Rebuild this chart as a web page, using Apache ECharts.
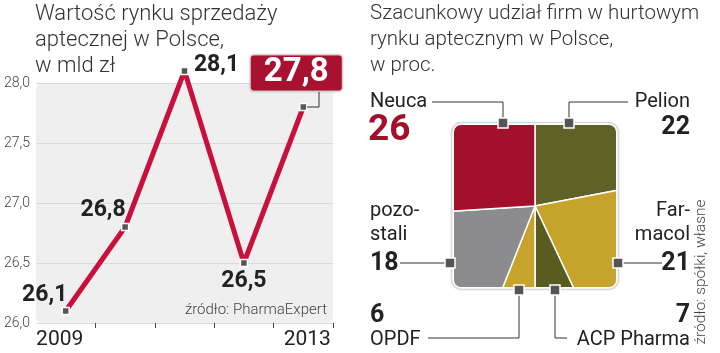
<!DOCTYPE html>
<html>
<head>
<meta charset="utf-8">
<script src="https://cdn.jsdelivr.net/npm/echarts@6.0.0/dist/echarts.min.js"></script>
<style>
  html, body { margin: 0; padding: 0; background: #fff; }
  #main { width: 720px; height: 353px; }
</style>
</head>
<body>
<div id="main"></div>
<script>
// wartość rynku, mld zł
const years = ['2009', '2010', '2011', '2012', '2013'];
const marketValues = [26.1, 26.8, 28.1, 26.5, 27.8];
const yMin = 26, yMax = 28, yStep = 0.5;

// udział firm, proc. (kolejność zgodnie z ruchem wskazówek od góry)
const shareNames = ['Pelion', 'Farmacol', 'ACP Pharma', 'OPDF', 'pozostali', 'Neuca'];
const shareLabels = ['Pelion', 'Far-\nmacol', 'ACP Pharma', 'OPDF', 'pozo-\nstali', 'Neuca'];
const shareValues = [22, 21, 7, 6, 18, 26];
const shareColors = ['#5e6226', '#c6a32a', '#585c1f', '#c6a32a', '#8c8c8e', '#a3102c'];

const FONT = 'Roboto, "Liberation Sans", sans-serif';

// label placement around the square
const notes = [
  { m: [569, 123], l: [[569, 102], [628, 102]], n: [690, 102, 'right'], v: [690, 128, 'right'] },
  { m: [618, 263], l: [[662, 263]], n: [690, 223, 'right'], v: [690, 264, 'right'] },
  { m: [555, 290], l: [[555, 338], [567, 338]], n: [690, 340, 'right'], v: [690, 316, 'right'] },
  { m: [519, 290], l: [[519, 338], [428, 338]], n: [370, 340, 'left'], v: [370, 316, 'left'] },
  { m: [450, 263], l: [[400, 263]], n: [370, 223, 'left'], v: [370, 264, 'left'] },
  { m: [503, 123], l: [[503, 102], [432, 102]], n: [370, 102, 'left'], v: [368, 131, 'left'] }
];
const lineLabelOffsets = [[-21, -16], [-22, -17], [32, -6], [0, 18], [-7, -34]];

const fmt = v => v.toFixed(1).replace('.', ',');

function txt(text, x, y, align, size, weight, color, extra) {
  return Object.assign({
    type: 'text', z: 20, silent: true,
    style: {
      text: text, x: x, y: y,
      align: align, textAlign: align,
      verticalAlign: 'middle', textVerticalAlign: 'middle',
      fontSize: size, fontWeight: weight, fontFamily: FONT,
      lineHeight: 24, fill: color
    }
  }, extra || {});
}

const graphics = [
  // plot background
  { type: 'rect', z: -1, silent: true, shape: { x: 36, y: 83, width: 297, height: 240, r: 6 }, style: { fill: '#efefef' } },
  // white mask clipping the pie to a rounded square
  { type: 'rect', z: 5, silent: true, shape: { x: 414, y: 85, width: 242, height: 242, r: 47 },
    style: { fill: null, stroke: '#fff', lineWidth: 80 } },
  // soft frame
  { type: 'rect', z: 6, silent: true, shape: { x: 451.5, y: 122.5, width: 167, height: 167, r: 10 },
    style: { fill: null, stroke: 'rgba(0,0,0,0.14)', lineWidth: 1.5, shadowBlur: 3, shadowColor: 'rgba(0,0,0,0.25)' } },
  // connector of the 2013 box
  { type: 'polyline', z: 20, silent: true, shape: { points: [[307, 107], [319, 107], [319, 92]] },
    style: { stroke: '#333', lineWidth: 1, fill: null } },
  txt('źródło: PharmaExpert', 327, 310, 'right', 15, 300, '#444'),
  txt('źródło: spółki, własne', 0, 0, 'center', 15.5, 300, '#444', { x: 701, y: 272, rotation: Math.PI / 2 })
];

shareLabels.forEach((name, i) => {
  const p = notes[i];
  graphics.push({ type: 'polyline', z: 19, silent: true, shape: { points: [p.m].concat(p.l) },
    style: { stroke: '#333', lineWidth: 1, fill: null } });
  graphics.push({ type: 'rect', z: 21, silent: true, shape: { x: p.m[0] - 5, y: p.m[1] - 5, width: 10, height: 10 },
    style: { fill: '#555', stroke: '#fff', lineWidth: 1.5 } });
  graphics.push(txt(name, p.n[0], p.n[1], p.n[2], 20, 'normal', '#222'));
  const big = shareNames[i] === 'Neuca';
  graphics.push(txt(String(shareValues[i]), p.v[0], p.v[1], p.v[2], big ? 37 : 25, 'bold', big ? '#a3102c' : '#222'));
});

const chart = echarts.init(document.getElementById('main'));
chart.setOption({
  animation: false,
  title: [
    { text: 'Wartość rynku sprzedaży\naptecznej w Polsce,\nw mld zł', left: 35, top: 1, padding: 0, z: 20,
      textStyle: { fontFamily: FONT, fontWeight: 300, fontSize: 22, lineHeight: 26, color: '#333' } },
    { text: 'Szacunkowy udział firm w hurtowym\nrynku aptecznym w Polsce,\nw proc.', left: 370, top: 1, padding: 0, z: 20,
      textStyle: { fontFamily: FONT, fontWeight: 300, fontSize: 20.5, lineHeight: 26, color: '#333' } }
  ],
  grid: { left: 36, right: 387, top: 83, bottom: 30 },
  xAxis: {
    type: 'category',
    data: years,
    boundaryGap: true,
    axisLine: { show: false },
    axisTick: { show: true, length: 5, interval: i => i > 0, lineStyle: { color: '#444' } },
    axisLabel: {
      interval: 0, margin: 6,
      formatter: (v, i) => i === 0 ? '{l|' + v + '}' : (i === years.length - 1 ? '{r|' + v + '}' : ''),
      rich: {
        l: { fontFamily: FONT, fontSize: 21, color: '#222', padding: [0, 12, 0, 0] },
        r: { fontFamily: FONT, fontSize: 21, color: '#222', padding: [0, 0, 0, 8] }
      }
    }
  },
  yAxis: {
    type: 'value', min: yMin, max: yMax, interval: yStep,
    axisLine: { show: false }, axisTick: { show: false },
    axisLabel: { formatter: fmt, color: '#444', fontFamily: FONT, fontWeight: 300, fontSize: 14, margin: 6 },
    splitLine: { lineStyle: { color: '#dadada', width: 1 } }
  },
  graphic: graphics,
  series: [
    {
      type: 'line',
      data: marketValues.map((v, i) => {
        const lab = { offset: lineLabelOffsets[i] };
        if (i === marketValues.length - 1) {
          Object.assign(lab, {
            color: '#fff', fontSize: 33, lineHeight: 33,
            backgroundColor: '#a8122f', padding: [2, 13, 0, 13], borderRadius: 3,
            borderColor: '#e6e6e6', borderWidth: 1, shadowBlur: 2, shadowColor: 'rgba(0,0,0,0.3)'
          });
        }
        return { value: v, label: lab };
      }),
      clip: false,
      symbol: 'rect', symbolSize: 7, showAllSymbol: true,
      lineStyle: { color: '#c8103c', width: 5 },
      itemStyle: { color: '#555', borderColor: '#fff', borderWidth: 1.5 },
      label: {
        show: true, position: 'inside', align: 'center', verticalAlign: 'middle',
        formatter: p => fmt(p.value),
        fontFamily: FONT, fontWeight: 'bold', fontSize: 23, color: '#222'
      },
      emphasis: { disabled: true },
      z: 3
    },
    {
      type: 'pie',
      center: [535, 206],
      radius: 124,
      startAngle: 90,
      clockwise: true,
      silent: true,
      label: { show: false },
      labelLine: { show: false },
      itemStyle: { borderColor: '#fff', borderWidth: 1.5 },
      data: shareNames.map((n, i) => ({ name: n, value: shareValues[i], itemStyle: { color: shareColors[i] } }))
    }
  ]
});
</script>
</body>
</html>
